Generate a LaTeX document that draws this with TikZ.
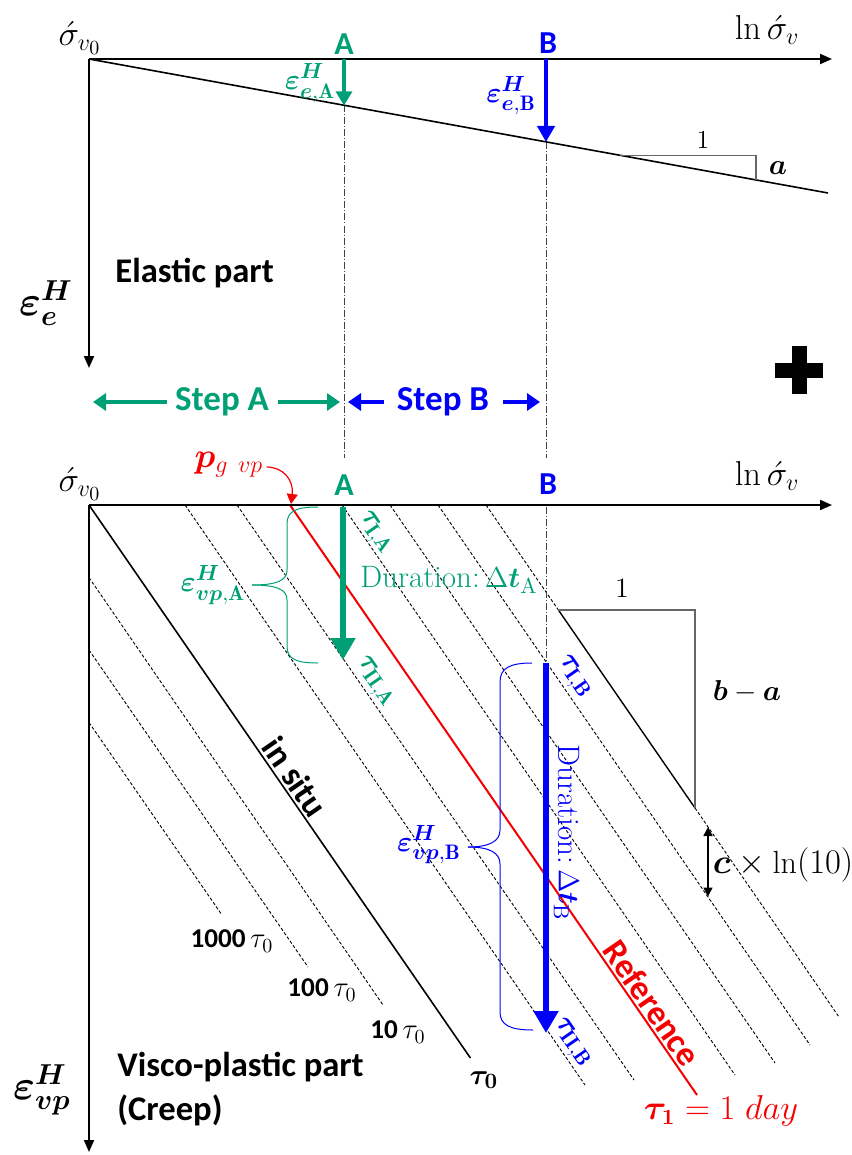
\documentclass[tikz,border=0pt]{standalone}
\usepackage{amsmath,bm}
\usepackage{fontspec}
\newfontfamily\calibri{Carlito}
\usetikzlibrary{arrows.meta,calc}
\definecolor{gA}{RGB}{0,160,118}
\definecolor{bB}{RGB}{0,0,250}
\definecolor{rR}{RGB}{245,0,0}
\begin{document}
\begin{tikzpicture}[x=0.5pt,y=-0.5pt,
  axis/.style={line width=1pt,-{Triangle[length=6pt,width=5pt]}},
  dd/.style={line width=0.5pt,black!75,dash pattern=on 3.5pt off 1pt on 0.5pt off 1pt},
  iso/.style={line width=0.45pt,dash pattern=on 1.6pt off 1pt},
  lab/.style={inner sep=0pt},
  sans/.style={inner sep=0pt,font=\calibri\bfseries\fontsize{17.3}{20}\selectfont},
  sanssm/.style={inner sep=0pt,font=\calibri\bfseries\fontsize{13.6}{16}\selectfont},
  stepar/.style={line width=2pt,-{Triangle[length=6.5pt,width=8.5pt]}},
  brc/.style={line width=0.5pt},
  tri/.style={line width=0.6pt,black!60}
]
\useasboundingbox (0,0) rectangle (851,1155);

% ================= TOP PANEL =================
\coordinate (O1) at (89,59);
\coordinate (X1) at (832,59);
\coordinate (Y1) at (89,368);
\coordinate (E1) at (828,193);
\coordinate (aT) at (344,59);
\coordinate (eA) at (344,105.5);
\coordinate (bT) at (546,59);
\coordinate (eB) at (546,142);
\coordinate (t1) at (620,155.2);
\coordinate (t2) at (756,155.2);
\coordinate (t3) at (756,179.8);
\coordinate (aEnd) at (344,458);
\coordinate (bEnd) at (546,458);

\draw[dd] (eA) -- (aEnd);
\draw[dd] (eB) -- (bEnd);
\draw[axis] (O1) -- (X1);
\draw[axis] (O1) -- (Y1);
\draw[line width=0.8pt] (O1) -- (E1);
\draw[tri] (t1) -- (t2) -- (t3);
\draw[gA,line width=1.6pt,-{Triangle[length=7pt,width=8pt]}] (aT) -- (eA);
\draw[bB,line width=2pt,-{Triangle[length=8pt,width=8.5pt]}] (bT) -- (eB);

\node[lab,font=\fontsize{17.28}{20}\selectfont] (s1) at (80,38) {$\acute{\sigma}_{v_0}$};
\node[lab,font=\fontsize{17.28}{20}\selectfont] (ln1) at (767,30) {$\ln\acute{\sigma}_{v}$};
\node[sans,gA,font=\calibri\bfseries\fontsize{16}{18}\selectfont] (A1) at (344,44) {A};
\node[sans,bB,font=\calibri\bfseries\fontsize{16}{18}\selectfont] (B1) at (548,43) {B};
\node[lab,gA,font=\fontsize{15}{18}\selectfont] (eAl) at (310,83) {$\bm{\varepsilon}^{\bm{H}}_{\bm{e},\mathbf{A}}$};
\node[lab,bB,font=\fontsize{15}{18}\selectfont] (eBl) at (511,96) {$\bm{\varepsilon}^{\bm{H}}_{\bm{e},\mathbf{B}}$};
\node[lab,font=\fontsize{13}{15}\selectfont] (one1) at (703,140) {1};
\node[lab,font=\fontsize{15}{18}\selectfont] (a1) at (778,168) {$\bm{a}$};
\node[sans,anchor=west] (el) at (115,273) {Elastic part};
\node[lab,font=\fontsize{21}{24}\selectfont] (ee) at (46,303) {$\bm{\varepsilon}^{\bm{H}}_{\bm{e}}$};

% step arrows
\node[sans,gA,font=\calibri\bfseries\fontsize{17.5}{20}\selectfont] (stA) at (222,402) {Step A};
\node[sans,bB,font=\calibri\bfseries\fontsize{17.5}{20}\selectfont] (stB) at (443,402) {Step B};
\coordinate (sA1) at (93,402);
\coordinate (sA2) at (340,402);
\coordinate (sB1) at (348,402);
\coordinate (sB2) at (540,402);
\draw[stepar,gA] (stA.west) ++(-8,0) -- (sA1);
\draw[stepar,gA] (stA.east) ++(9,0) -- (sA2);
\draw[stepar,bB] (stB.west) ++(-13,0) -- (sB1);
\draw[stepar,bB] (stB.east) ++(14,0) -- (sB2);

% plus
\coordinate (p1) at (775,370);
\coordinate (p2) at (823,370);
\coordinate (p3) at (799,346);
\coordinate (p4) at (799,394);
\draw[line width=7.5pt] (p1) -- (p2);
\draw[line width=7.5pt] (p3) -- (p4);

% ================= BOTTOM PANEL =================
\coordinate (O2) at (89,505);
\coordinate (X2) at (832,505);
\coordinate (Y2) at (89,1152);

% dashed isotaches
\foreach \sx/\sy/\ex/\ey in {89/577.5/383/1005, 89/650/308/967, 89/722.5/222/915,
  185/505/585/1085, 237/505/634/1080, 342/505/735/1075, 390/505/775/1063,
  438/505/810/1045}{
  \draw[iso] (\sx,\sy) -- (\ex,\ey);
}
\coordinate (k6a) at (486,505);
\coordinate (k6b) at (558.4,610);
\coordinate (k6c) at (695,808);
\coordinate (k6d) at (839,1017);
\draw[iso] (k6a) -- (k6b);
\draw[line width=0.7pt] (k6b) -- (k6c);
\draw[iso] (k6c) -- (k6d);
\coordinate (t4) at (695,610);
\draw[tri] (k6b) -- (t4) -- (k6c);

% dash-dot B
\coordinate (bL1) at (546,507);
\coordinate (bL2) at (546,663);
\draw[dd] (bL1) -- (bL2);

% in situ and reference
\coordinate (isE) at (470.4,1058);
\draw[line width=0.8pt] (O2) -- (isE);
\coordinate (rS) at (290,505);
\coordinate (rE) at (697,1095);
\draw[rR,line width=1pt] (rS) -- (rE);

\draw[axis] (O2) -- (X2);
\draw[axis] (O2) -- (Y2);

% arrows
\coordinate (gS) at (343,507);
\coordinate (gE) at (343,660);
\draw[gA,line width=2.6pt,-{Triangle[length=11pt,width=12pt]}] (gS) -- (gE);
\coordinate (bS) at (546,663);
\coordinate (bE) at (546,1033);
\draw[bB,line width=2.6pt,-{Triangle[length=11pt,width=12pt]}] (bS) -- (bE);

% braces
\draw[gA,brc] (318,507) .. controls (296,507) and (287,511) .. (287,524) -- (287,570)
   .. controls (287,580) and (278,585) .. (252,585);
\draw[gA,brc] (318,663) .. controls (296,663) and (287,659) .. (287,646) -- (287,600)
   .. controls (287,590) and (278,585) .. (252,585);
\draw[bB,brc] (532,663) .. controls (510,663) and (500,668) .. (500,682) -- (500,830)
   .. controls (500,841) and (490,847) .. (468,847);
\draw[bB,brc] (533,1030) .. controls (510,1030) and (500,1025) .. (500,1012) -- (500,864)
   .. controls (500,853) and (490,847) .. (468,847);

% c x ln(10)
\coordinate (c1) at (708,827);
\coordinate (c2) at (708,896.5);
\draw[line width=0.8pt,{Triangle[length=4.5pt,width=4.5pt]}-{Triangle[length=4.5pt,width=4.5pt]}] (c1) -- (c2);

% labels bottom
\node[lab,font=\fontsize{17.28}{20}\selectfont] (s2) at (80,484) {$\acute{\sigma}_{v_0}$};
\node[lab,font=\fontsize{17.28}{20}\selectfont] (ln2) at (767,476) {$\ln\acute{\sigma}_{v}$};
\node[sans,gA,font=\calibri\bfseries\fontsize{16}{18}\selectfont] (A2) at (344,485) {A};
\node[sans,bB,font=\calibri\bfseries\fontsize{16}{18}\selectfont] (B2) at (548,484) {B};
\node[lab,rR,font=\fontsize{17.28}{20}\selectfont] (pg) at (229,465) {$\bm{p}_{g\;\,vp}$};
\coordinate (pgT) at (291,504);
\draw[rR,line width=0.6pt,-{Triangle[length=5pt,width=5.5pt]}] (pg.east) ++(3,2) .. controls (283,467) and (294,480) .. (pgT);

\node[lab,gA,rotate=-55.4,font=\fontsize{15}{18}\selectfont] (tIA) at (375,533) {$\bm{\tau}_{\mathbf{I,A}}$};
\node[lab,gA,rotate=-55.4,font=\fontsize{15}{18}\selectfont] (tIIA) at (375,682) {$\bm{\tau}_{\mathbf{II,A}}$};
\node[lab,bB,rotate=-55.4,font=\fontsize{15}{18}\selectfont] (tIB) at (574,677) {$\bm{\tau}_{\mathbf{I,B}}$};
\node[lab,bB,rotate=-55.4,font=\fontsize{15}{18}\selectfont] (tIIB) at (572,1043) {$\bm{\tau}_{\mathbf{II,B}}$};

\node[lab,gA,font=\fontsize{15.5}{18}\selectfont] (durA) at (449,580) {Duration:\,$\Delta\bm{t}_{\mathrm{A}}$};
\node[lab,bB,rotate=-90,font=\fontsize{15.5}{18}\selectfont] (durB) at (567,833) {Duration:\,$\Delta\bm{t}_{\mathrm{B}}$};

\node[lab,gA,font=\fontsize{15}{18}\selectfont] (evA) at (213,585) {$\bm{\varepsilon}^{\bm{H}}_{\bm{vp},\mathbf{A}}$};
\node[lab,bB,font=\fontsize{15}{18}\selectfont] (evB) at (429,845) {$\bm{\varepsilon}^{\bm{H}}_{\bm{vp},\mathbf{B}}$};

\node[sans,rotate=-55.4] (insitu) at (295,777) {in situ};
\node[lab,font=\fontsize{15.5}{18}\selectfont] (t0) at (484,1080) {$\bm{\tau_0}$};
\node[sanssm] (l10) at (398,1032) {10\,$\tau_0$};
\node[sanssm] (l100) at (322,990) {100\,$\tau_0$};
\node[sanssm] (l1000) at (232,941) {1000\,$\tau_0$};

\node[sans,anchor=west] (vp1) at (117,1067) {Visco-plastic part};
\node[sans,anchor=west] (vp2) at (117,1110) {(Creep)};
\node[lab,font=\fontsize{21}{24}\selectfont] (evp) at (42,1090) {$\bm{\varepsilon}^{\bm{H}}_{\bm{vp}}$};

\node[sans,rR,rotate=-55.4] (ref) at (652,1003) {Reference};
\node[lab,rR,font=\fontsize{16}{18}\selectfont] (t1d) at (721,1111) {$\bm{\tau_1}=1\;day$};

\node[lab,font=\fontsize{14}{16}\selectfont] (one2) at (622,588) {1};
\node[lab,font=\fontsize{15}{18}\selectfont] (bma) at (747,692) {$\bm{b}-\bm{a}$};
\node[lab,font=\fontsize{16}{18}\selectfont] (cln) at (783,865) {$\bm{c}\times\ln(10)$};
\end{tikzpicture}
\end{document}
